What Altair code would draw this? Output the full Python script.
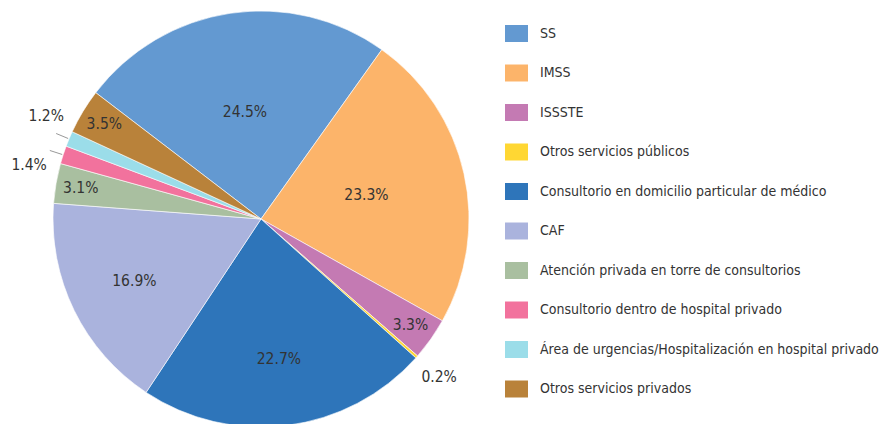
import math
import altair as alt
import pandas as pd

categories = [
    "SS",
    "IMSS",
    "ISSSTE",
    "Otros servicios públicos",
    "Consultorio en domicilio particular de médico",
    "CAF",
    "Atención privada en torre de consultorios",
    "Consultorio dentro de hospital privado",
    "Área de urgencias/Hospitalización en hospital privado",
    "Otros servicios privados",
]
values = [24.5, 23.3, 3.3, 0.2, 22.7, 16.9, 3.1, 1.4, 1.2, 3.5]
colors = [
    "#6399D1", "#FCB46A", "#C47AB3", "#FFD733", "#2E75BA",
    "#AAB3DD", "#A9BFA0", "#F2729D", "#9BDDE9", "#B9823A",
]

df = pd.DataFrame({"category": categories, "value": values, "idx": list(range(len(values)))})

FONT = "DejaVu Sans Condensed, Liberation Sans"
CX, CY, R = 253, 211, 208
START = -52.6 * math.pi / 180
# angular spreading for the two crowded outside labels (radians)
NUDGE = {"Consultorio dentro de hospital privado": -0.086,
         "Área de urgencias/Hospitalización en hospital privado": 0.05}
nudge_expr = " : ".join(
    f"datum.category === '{k}' ? {v}" for k, v in NUDGE.items()) + " : 0"
lead_test = " || ".join(f"datum.category === '{k}'" for k in NUDGE)

base = alt.Chart(df).transform_window(
    cum="sum(value)", sort=[alt.SortField("idx")], frame=[None, 0]
).transform_joinaggregate(
    total="sum(value)"
).transform_calculate(
    start=f"{START} + 2*PI*(datum.cum - datum.value)/datum.total",
    end=f"{START} + 2*PI*datum.cum/datum.total",
).transform_calculate(
    mid="(datum.start + datum.end)/2",
    nudge=nudge_expr,
    label="format(datum.value, '.1f') + '%'",
).transform_calculate(
    rl=f"datum.value < 2 ? 238 : datum.value < 10 ? 183 : (cos(datum.mid) > 0 ? 108 : 141)",
    tl="datum.mid + datum.nudge",
).transform_calculate(
    lx=f"{CX} + datum.rl*sin(datum.tl)",
    ly=f"{CY} - datum.rl*cos(datum.tl)",
    ax=f"{CX} + {R + 1}*sin(datum.mid)",
    ay=f"{CY} - {R + 1}*cos(datum.mid)",
    bx=f"{CX} + {R + 14}*sin(datum.mid)",
    by=f"{CY} - {R + 14}*cos(datum.mid)",
)

arcs = base.mark_arc(radius=R, stroke="white", strokeWidth=0.6).encode(
    theta=alt.Theta("start:Q", scale=None),
    theta2=alt.Theta2("end:Q"),
    x=alt.value(CX),
    y=alt.value(CY),
    color=alt.Color(
        "category:N",
        scale=alt.Scale(domain=categories, range=colors),
        legend=alt.Legend(
            title=None,
            orient="none",
            legendX=500,
            legendY=17,
            padding=0,
            labelFont=FONT,
            labelFontSize=14,
            labelColor="#333333",
            labelLimit=0,
            labelOffset=15,
            symbolType="M-1.35,-1H1.35V1H-1.35Z",
            symbolSize=289,
            symbolStrokeWidth=0,
            symbolOpacity=1,
            rowPadding=22.5,
        ),
    ),
    tooltip=["category:N", "value:Q"],
)

leaders = base.transform_filter(lead_test).mark_rule(color="#999999", strokeWidth=1).encode(
    x=alt.X("ax:Q", scale=None),
    y=alt.Y("ay:Q", scale=None),
    x2="bx:Q",
    y2="by:Q",
)

texts = base.mark_text(font=FONT, fontSize=15.5, color="#333333", align="center", baseline="middle").encode(
    x=alt.X("lx:Q", scale=None),
    y=alt.Y("ly:Q", scale=None),
    text="label:N",
)

chart = alt.layer(arcs, leaders, texts).properties(
    width=871,
    height=416,
    padding=0,
    autosize=alt.AutoSizeParams(type="none"),
).configure_view(stroke=None)

chart.save("out.html", embed_options={"renderer": "svg", "actions": False})
